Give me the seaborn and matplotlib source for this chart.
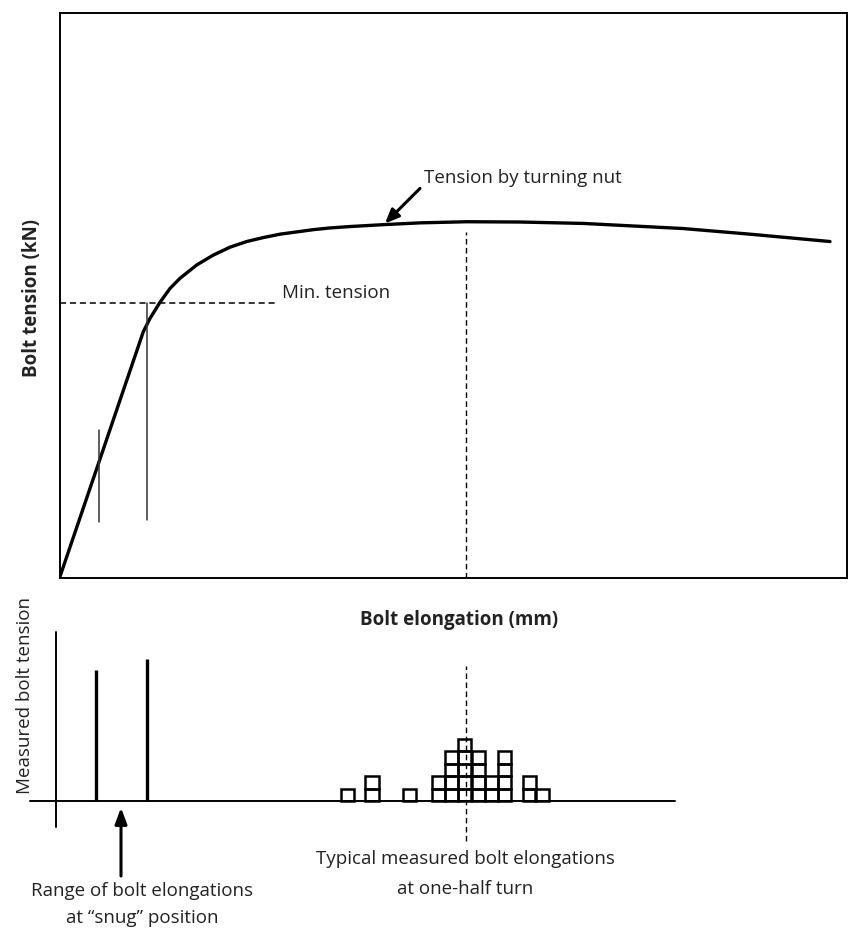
import numpy as np
import pandas as pd
import matplotlib
matplotlib.use("Agg")
import matplotlib.pyplot as plt
import seaborn as sns

# tension vs elongation curve (arbitrary units)
elong = [0.0, 1.064, 1.149, 1.276, 1.403, 1.530, 1.742, 1.953, 2.165, 2.377,
         2.588, 2.800, 3.012, 3.223, 3.435, 3.689, 4.133, 4.578, 5.171, 5.848,
         6.648, 7.918, 8.768, 9.784]
tension = [0.0, 43.55, 45.9, 48.75, 51.2, 53.0, 55.35, 57.1, 58.5, 59.5,
           60.2, 60.8, 61.2, 61.6, 61.9, 62.15, 62.5, 62.8, 63.0, 62.95,
           62.7, 61.8, 60.8, 59.5]

min_tension = 48.6
half_turn = 5.16
snug_x = [0.505, 1.107]          # range of snug elongations
snug_marks_low = [9.9, 10.3]
snug_marks_high = [26.2, 48.6]

# measured bolts: snug bars and half-turn histogram
snug_bar_x = [0.463, 1.107]
snug_bar_h = [10.5, 11.4]
hist_x = [3.661, 3.970, 4.447, 4.811, 4.976, 5.145, 5.319, 5.488, 5.653, 5.966, 6.129]
hist_n = [1, 2, 1, 2, 4, 5, 4, 2, 4, 2, 1]
box_w = 0.17

sns.set_theme(style="white")
plt.rcParams['font.family'] = ['Open Sans', 'DejaVu Sans']

W, H = 848, 931
FS = 13.5
TXT = '#222222'
fig = plt.figure(figsize=(W / 100, H / 100), dpi=100)

def px_axes(x0, y0, x1, y1):
    return fig.add_axes([x0 / W, 1 - y1 / H, (x1 - x0) / W, (y1 - y0) / H])

# ---- top panel ----
ax = px_axes(59.5, 12.5, 847, 578)
df = pd.DataFrame({'elong': elong, 'tension': tension})
sns.lineplot(data=df, x='elong', y='tension', ax=ax, color='black', lw=2.4,
             sort=False, estimator=None)
ax.set_xlim(0, 10)
ax.set_ylim(0, 100)
ax.set_xticks([])
ax.set_yticks([])
ax.set_xlabel('')
ax.set_ylabel('')
for s in ax.spines.values():
    s.set_color('black')
    s.set_linewidth(1.4)

ax.plot([0, 2.74], [min_tension, min_tension], color='black', lw=1.1, ls=(0, (4, 2.5)))
ax.text(2.82, 50.4, 'Min. tension', fontsize=FS, va='center', ha='left', color=TXT)
for x, lo, hi in zip(snug_x, snug_marks_low, snug_marks_high):
    ax.plot([x, x], [lo, hi], color='#333333', lw=1.1)
ax.plot([half_turn, half_turn], [0, 61.1], color='black', lw=1.0, ls=(0, (4, 2.5)))

ax.annotate('', xy=(4.133, 62.7), xytext=(4.578, 68.9),
            arrowprops=dict(arrowstyle='-|>,head_length=0.7,head_width=0.3',
                            color='black', lw=2.2, shrinkA=0, shrinkB=0))
ax.text(4.629, 70.7, 'Tension by turning nut', fontsize=FS, va='center', ha='left',
        color=TXT)

fig.text(32 / W, 1 - 298 / H, 'Bolt tension (kN)', rotation=90, fontsize=FS,
         fontweight='bold', ha='center', va='center', color=TXT)
fig.text(459 / W, 1 - 620 / H, 'Bolt elongation (mm)', fontsize=FS,
         fontweight='bold', ha='center', va='center', color=TXT)

# ---- bottom panel ----
bx = px_axes(59.5, 600, 847, 931)
bx.set_xlim(0, 10)
bx.set_ylim(-(931 - 801) / 12.5, (801 - 600) / 12.5)
bx.axis('off')

bx.plot([-0.375, 7.816], [0, 0], color='black', lw=1.4, clip_on=False)
bx.plot([-0.044, -0.044], [-2.1, 13.5], color='black', lw=1.4, clip_on=False)
for x, h in zip(snug_bar_x, snug_bar_h):
    bx.plot([x, x], [0, h], color='black', lw=2.4, solid_capstyle='butt')

for x, n in zip(hist_x, hist_n):
    bx.bar([x] * n, [1] * n, bottom=list(range(n)), width=box_w, fill=False,
           edgecolor='black', linewidth=1.8)

bx.plot([half_turn, half_turn], [-3.2, 10.8], color='black', lw=1.0, ls=(0, (4, 2.5)))

bx.annotate('', xy=(0.781, -0.54), xytext=(0.781, -6.0),
            arrowprops=dict(arrowstyle='-|>,head_length=0.8,head_width=0.3',
                            color='black', lw=2.2, shrinkA=0, shrinkB=0))

fig.text(142 / W, 1 - 891 / H, 'Range of bolt elongations', fontsize=FS,
         ha='center', va='center', color=TXT)
fig.text(142 / W, 1 - 918 / H, 'at \u201csnug\u201d position', fontsize=FS,
         ha='center', va='center', color=TXT)
fig.text(465 / W, 1 - 859 / H, 'Typical measured bolt elongations', fontsize=FS,
         ha='center', va='center', color=TXT)
fig.text(465 / W, 1 - 889 / H, 'at one-half turn', fontsize=FS,
         ha='center', va='center', color=TXT)
fig.text(25 / W, 1 - 696 / H, 'Measured bolt tension', rotation=90, fontsize=FS,
         ha='center', va='center', color=TXT)

fig.savefig('out.png', dpi=100)
